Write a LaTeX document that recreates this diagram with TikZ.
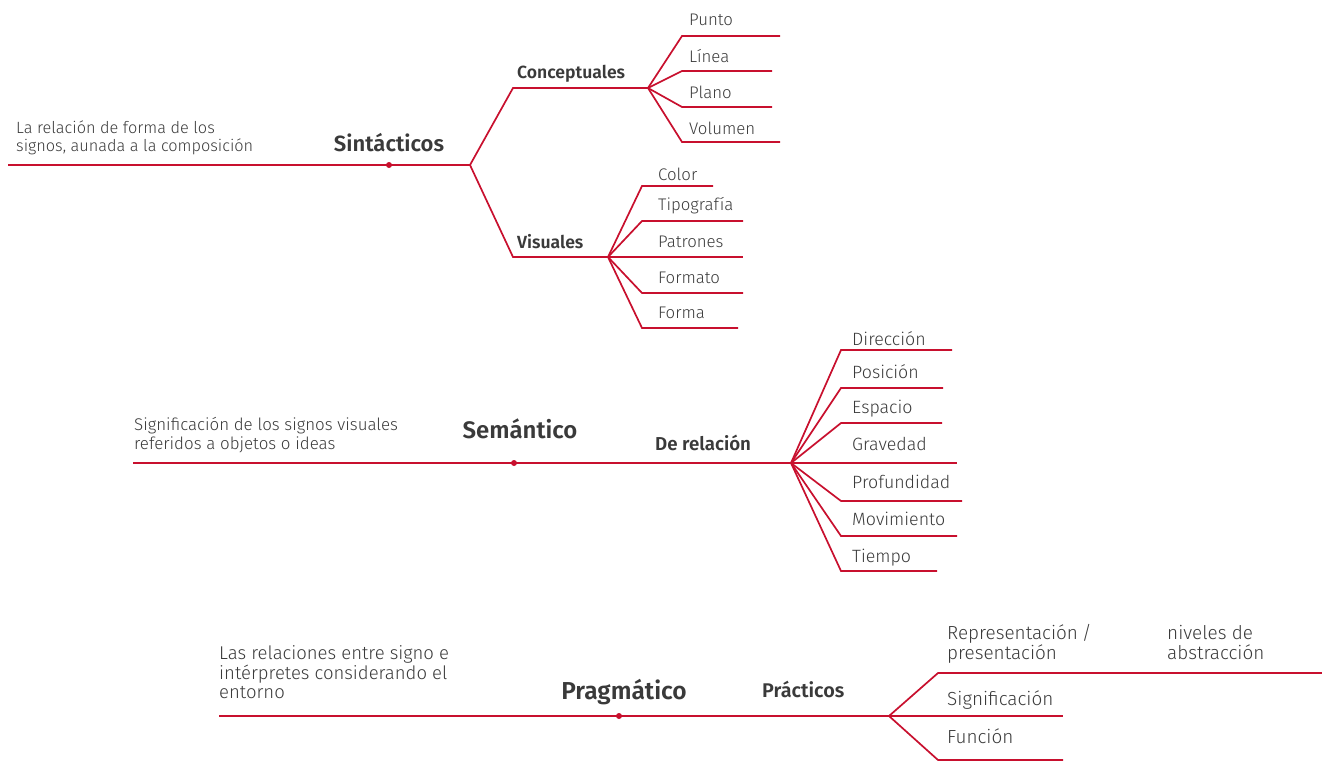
\documentclass[tikz,border=0pt]{standalone}
\usepackage{fontspec}
\IfFontExistsTF{Fira Sans Light}{%
  \IfFontExistsTF{Fira Sans SemiBold}
    {\setmainfont{Fira Sans Light}[BoldFont={Fira Sans SemiBold}]}
    {\setmainfont{Fira Sans Light}[BoldFont={Fira Sans Bold}]}%
}{\setmainfont{Fira Sans}}
\definecolor{rojo}{HTML}{C8102E}
\definecolor{texto}{HTML}{3A3A3A}
\begin{document}
\begin{tikzpicture}[x=1pt,y=-1pt,
  rama/.style={draw=rojo, line width=1.7pt, line join=miter},
  punto/.style={circle, fill=rojo, inner sep=0pt, minimum size=6pt},
  txt/.style={anchor=base west, inner sep=0pt, text=texto},
  hoja/.style={txt, font=\fontsize{16.8}{19}\selectfont},
  hojaM/.style={txt, font=\fontsize{17.8}{20}\selectfont},
  hojaP/.style={txt, font=\fontsize{18.9}{21}\selectfont},
  desc/.style={txt, font=\fontsize{16.3}{18}\selectfont},
  descM/.style={txt, font=\fontsize{16.9}{19}\selectfont},
  descP/.style={txt, font=\fontsize{18.5}{21}\selectfont},
  sub/.style={txt, font=\fontsize{17.6}{20}\selectfont\bfseries},
  subM/.style={txt, font=\fontsize{18.7}{21}\selectfont\bfseries},
  subP/.style={txt, font=\fontsize{19.8}{22}\selectfont\bfseries},
  tema/.style={anchor=base, inner sep=0pt, text=texto, font=\fontsize{22}{26}\selectfont\bfseries}]
\useasboundingbox (0,0) rectangle (1322,761);

% ---------- Sintácticos ----------
\coordinate (s0) at (8,165);
\coordinate (sF) at (470,165);
\draw[rama] (s0) -- (sF);
\node[punto] (sDot) at (389,165) {};
\node[tema] (sT) at (389,151) {Sintácticos};
\node[desc] (sD1) at (16,133) {La relación de forma de los};
\node[desc] (sD2) at (16,151) {signos, aunada a la composición};

% Conceptuales
\coordinate (c1) at (513,88);
\coordinate (cF) at (648,88);
\draw[rama] (sF) -- (c1) -- (cF);
\node[sub] (cT) at (517,78) {Conceptuales};
\coordinate (cA1) at (682,36);  \coordinate (cA2) at (780,36);
\coordinate (cB1) at (682,71);  \coordinate (cB2) at (772,71);
\coordinate (cC1) at (682,107); \coordinate (cC2) at (772,107);
\coordinate (cD1) at (682,142); \coordinate (cD2) at (780,142);
\draw[rama] (cF) -- (cA1) -- (cA2);
\draw[rama] (cF) -- (cB1) -- (cB2);
\draw[rama] (cF) -- (cC1) -- (cC2);
\draw[rama] (cF) -- (cD1) -- (cD2);
\node[hoja] (cA) at (689,25) {Punto};
\node[hoja] (cB) at (689,62) {Línea};
\node[hoja] (cC) at (689,98) {Plano};
\node[hoja] (cD) at (689,134) {Volumen};

% Visuales
\coordinate (v1) at (513,257);
\coordinate (vF) at (608,257);
\draw[rama] (sF) -- (v1) -- (vF);
\node[sub] (vT) at (517,248) {Visuales};
\coordinate (vA1) at (642,186); \coordinate (vA2) at (713,186);
\coordinate (vB1) at (642,221); \coordinate (vB2) at (743,221);
\coordinate (vC2) at (743,257);
\coordinate (vD1) at (642,293); \coordinate (vD2) at (743,293);
\coordinate (vE1) at (642,328); \coordinate (vE2) at (738,328);
\draw[rama] (vF) -- (vA1) -- (vA2);
\draw[rama] (vF) -- (vB1) -- (vB2);
\draw[rama] (vF) -- (vC2);
\draw[rama] (vF) -- (vD1) -- (vD2);
\draw[rama] (vF) -- (vE1) -- (vE2);
\node[hoja] (vA) at (658,180) {Color};
\node[hoja] (vB) at (658,210) {Tipografía};
\node[hoja] (vC) at (658,247) {Patrones};
\node[hoja] (vD) at (658,283) {Formato};
\node[hoja] (vE) at (658,318) {Forma};

% ---------- Semántico ----------
\coordinate (m0) at (133,463);
\coordinate (mF) at (791,463);
\draw[rama] (m0) -- (mF);
\node[punto] (mDot) at (514,463) {};
\node[tema, font=\fontsize{23.9}{28}\selectfont\bfseries] (mT) at (520,438) {Semántico};
\node[descM] (mD1) at (134,430) {Significación de los signos visuales};
\node[descM] (mD2) at (134,449) {referidos a objetos o ideas};
\node[subM] (mS) at (655,450) {De relación};
\coordinate (mA1) at (841,350); \coordinate (mA2) at (952,350);
\coordinate (mB1) at (841,388); \coordinate (mB2) at (943,388);
\coordinate (mC1) at (841,423); \coordinate (mC2) at (942,423);
\coordinate (mD2x) at (957,463);
\coordinate (mE1) at (841,501); \coordinate (mE2) at (962,501);
\coordinate (mG1) at (841,536); \coordinate (mG2) at (957,536);
\coordinate (mH1) at (841,571); \coordinate (mH2) at (937,571);
\draw[rama] (mF) -- (mA1) -- (mA2);
\draw[rama] (mF) -- (mB1) -- (mB2);
\draw[rama] (mF) -- (mC1) -- (mC2);
\draw[rama] (mF) -- (mD2x);
\draw[rama] (mF) -- (mE1) -- (mE2);
\draw[rama] (mF) -- (mG1) -- (mG2);
\draw[rama] (mF) -- (mH1) -- (mH2);
\node[hojaM] (mA) at (852,345) {Dirección};
\node[hojaM] (mB) at (852,378) {Posición};
\node[hojaM] (mC) at (852,413) {Espacio};
\node[hojaM] (mD) at (852,450) {Gravedad};
\node[hojaM] (mE) at (852,488) {Profundidad};
\node[hojaM] (mG) at (852,525) {Movimiento};
\node[hojaM] (mH) at (852,562) {Tiempo};

% ---------- Pragmático ----------
\coordinate (p0) at (219,716);
\coordinate (pF) at (889,716);
\draw[rama] (p0) -- (pF);
\node[punto] (pDot) at (619,716) {};
\node[tema, font=\fontsize{24.5}{28}\selectfont\bfseries] (pT) at (624,699) {Pragmático};
\node[descP] (pD1) at (219,659) {Las relaciones entre signo e};
\node[descP] (pD2) at (219,679) {intérpretes considerando el};
\node[descP] (pD3) at (219,698) {entorno};
\node[subP] (pS) at (762,697) {Prácticos};
\coordinate (pA1) at (938,673); \coordinate (pA2) at (1322,673);
\coordinate (pB2) at (1063,716);
\coordinate (pC1) at (938,760); \coordinate (pC2) at (1063,760);
\draw[rama] (pF) -- (pA1) -- (pA2);
\draw[rama] (pF) -- (pB2);
\draw[rama] (pF) -- (pC1) -- (pC2);
\node[hojaP] (pA) at (947,639) {Representación\hspace{4pt}/};
\node[hojaP] (pA') at (947,659) {presentación};
\node[hojaP] (pN) at (1167,639) {niveles de};
\node[hojaP] (pN') at (1167,659) {abstracción};
\node[hojaP] (pB) at (947,705) {Significación};
\node[hojaP] (pC) at (947,743) {Función};
\end{tikzpicture}
\end{document}
